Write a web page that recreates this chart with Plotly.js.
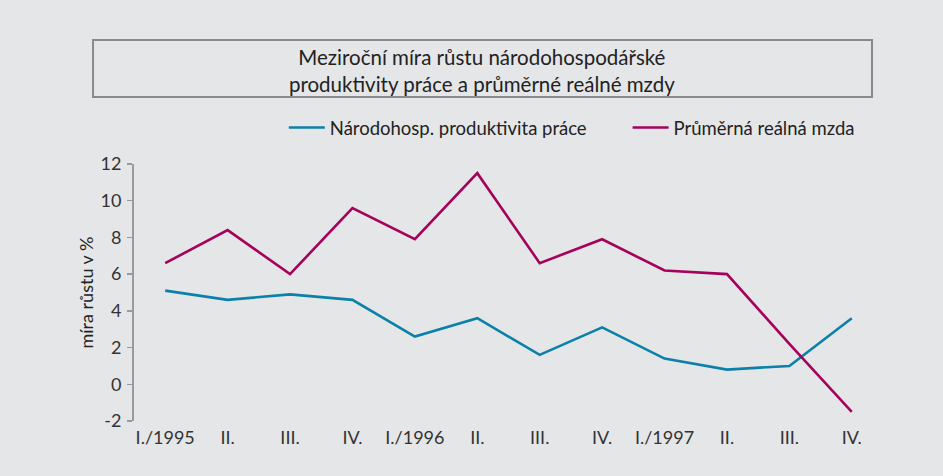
<!DOCTYPE html>
<html><head><meta charset="utf-8">
<script src="https://cdn.plot.ly/plotly-3.0.1.min.js"></script>
<style>html,body{margin:0;padding:0;background:#e5e6e8;}</style>
</head><body>
<div id="chart" style="width:943px;height:476px;"></div>
<script>
const categories = ["I./1995","II.","III.","IV.","I./1996","II.","III.","IV.","I./1997","II.","III.","IV."];
const productivity = [5.1, 4.6, 4.9, 4.6, 2.6, 3.6, 1.6, 3.1, 1.4, 0.8, 1.0, 3.6];
const realWage = [6.6, 8.4, 6.0, 9.6, 7.9, 11.5, 6.6, 7.9, 6.2, 6.0, 2.2, -1.5];
const seriesNames = ["Národohosp. produktivita práce", "Průměrná reálná mzda"];
const yTicks = [-2, 0, 2, 4, 6, 8, 10, 12];
const yTickLabels = ["-2", "0", "2", "4", "6", "8", "10", "12"];

const idx = categories.map((c, i) => i);
const bounds = categories.map((c, i) => i - 0.5).concat([categories.length - 0.5]);
const FONT = "Lato, 'Open Sans', sans-serif";

const traces = [
  {x: idx, y: productivity, name: seriesNames[0], type: "scatter", mode: "lines", legend: "legend",
   line: {color: "#0b80a8", width: 2.6}},
  {x: idx, y: realWage, name: seriesNames[1], type: "scatter", mode: "lines", legend: "legend2",
   line: {color: "#a5025c", width: 2.6}}
];

const legendBase = {orientation: "h", xanchor: "left", y: 1.14, yanchor: "middle",
  font: {family: FONT, size: 18.5, color: "#222"}, bgcolor: "rgba(0,0,0,0)", itemwidth: 36};

const layout = {
  width: 943, height: 476,
  paper_bgcolor: "#e5e6e8", plot_bgcolor: "#e5e6e8",
  margin: {l: 134, r: 60, t: 164, b: 55},
  font: {family: FONT, color: "#333", size: 18},
  title: {text: "Meziroční míra růstu národohospodářské<br>produktivity práce a průměrné reálné mzdy",
          x: 0.511, xref: "container", xanchor: "center", y: 0.863, yref: "container", yanchor: "middle",
          font: {family: FONT, size: 20.5, color: "#222"}},
  showlegend: true,
  legend: Object.assign({}, legendBase, {x: 0.2}),
  legend2: Object.assign({}, legendBase, {x: 0.659}),
  xaxis: {range: [-0.5, categories.length - 0.5], tickvals: idx, ticktext: categories,
          showline: false, showgrid: false, zeroline: false, ticks: "", ticklabelstandoff: 4,
          tickfont: {size: 18, color: "#333"}, fixedrange: true},
  xaxis2: {overlaying: "x", anchor: "free", position: 2/14, range: [-0.5, categories.length - 0.5],
           tickvals: bounds, showticklabels: false, showline: true, linecolor: "#999", linewidth: 2,
           ticks: "outside", ticklen: 6, tickcolor: "#999", tickwidth: 1.5, showgrid: false, zeroline: false},
  yaxis: {range: [-2, 12], tickvals: yTicks, ticktext: yTickLabels, showline: true, linecolor: "#999", linewidth: 2,
          ticks: "outside", ticklen: 5, tickcolor: "#999", tickwidth: 1.5, showgrid: false, zeroline: false,
          ticklabelstandoff: 2, tickfont: {size: 18, color: "#333"},
          title: {text: "míra růstu v %", font: {family: FONT, size: 18, color: "#222"}, standoff: 2}},
  shapes: [
    {type: "rect", xref: "paper", yref: "paper", x0: -0.0547, x1: 0.9853, y0: 1.2607, y1: 1.4825,
     line: {color: "#8a8a8a", width: 2}, fillcolor: "rgba(0,0,0,0)"}
  ]
};

Plotly.newPlot("chart", traces, layout, {displayModeBar: false, staticPlot: true});
</script>
</body></html>
